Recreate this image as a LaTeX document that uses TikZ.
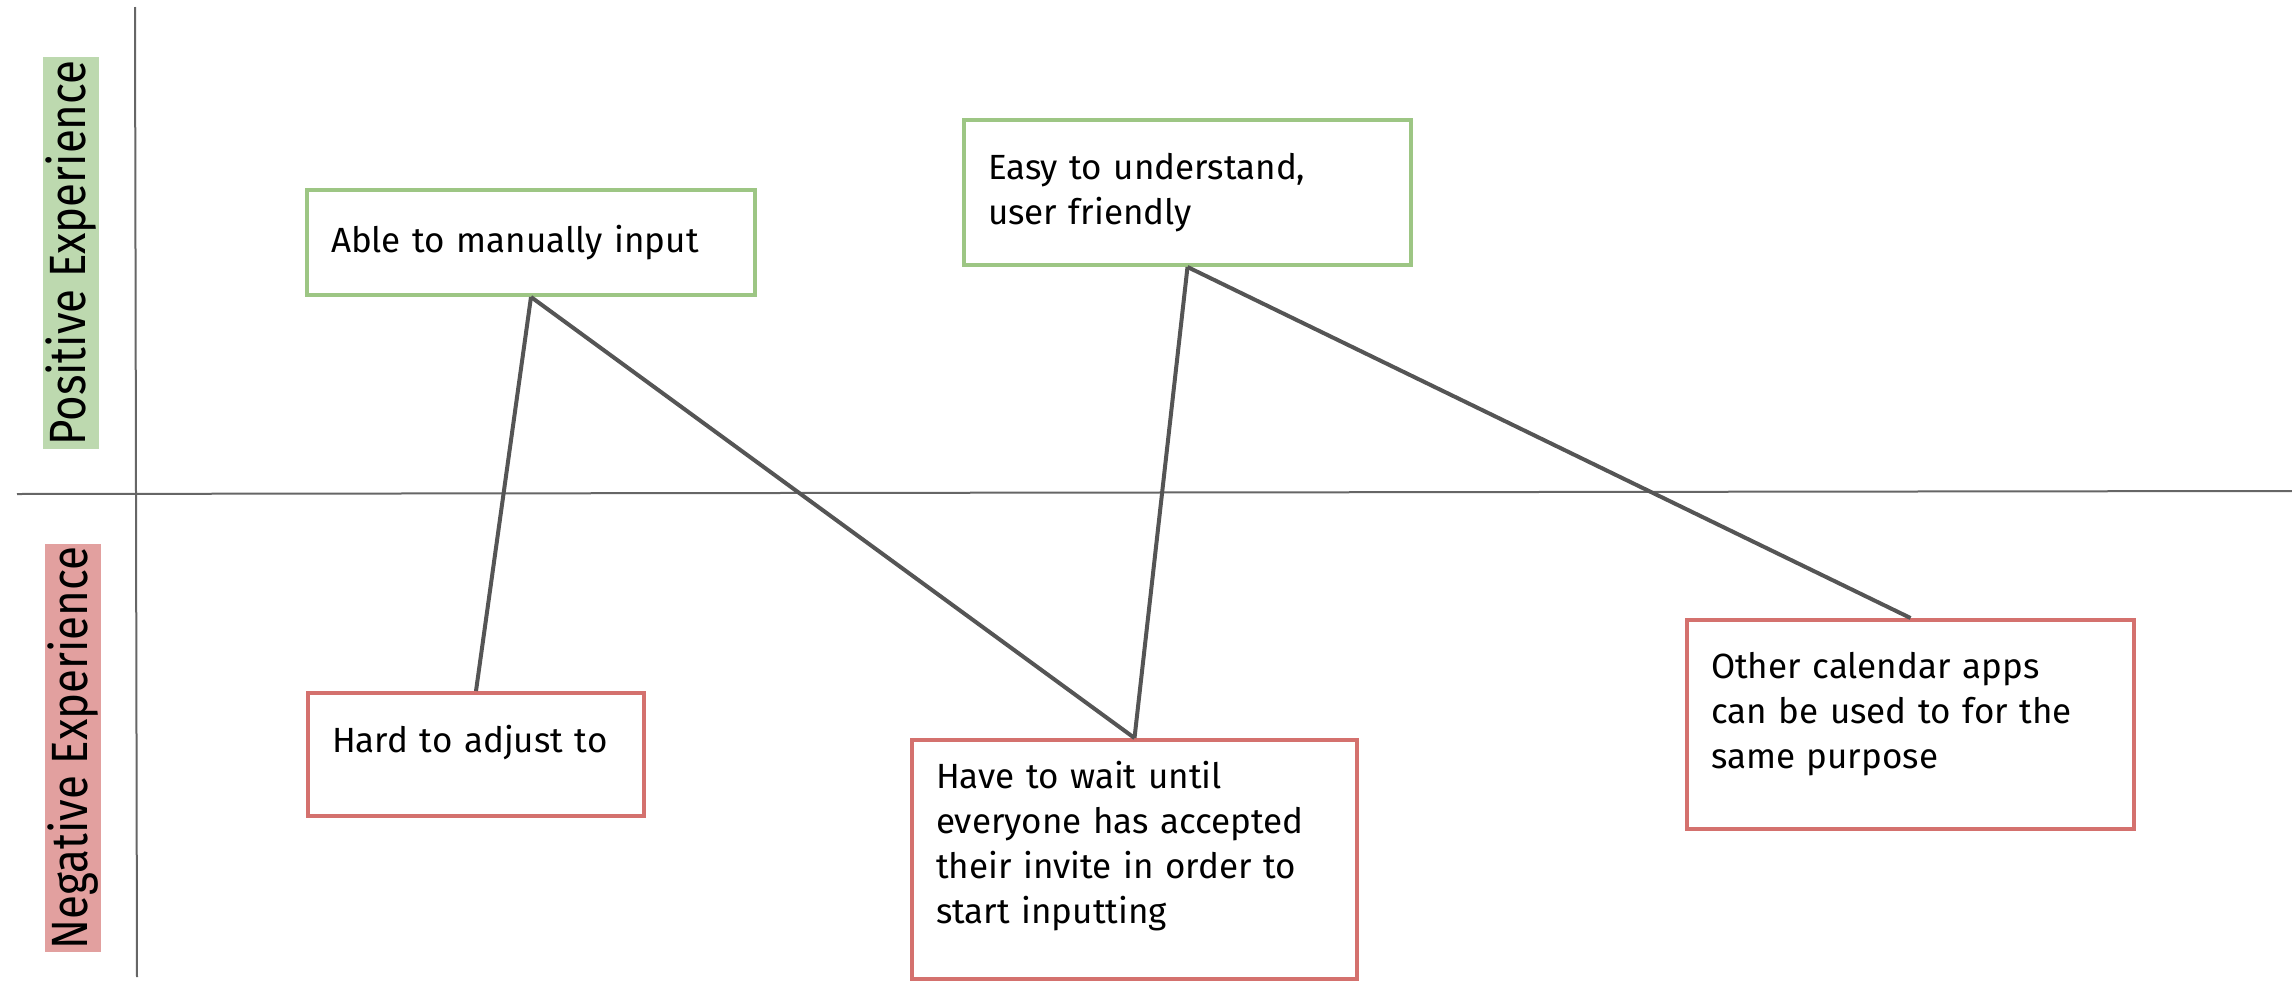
\documentclass[tikz,border=0pt]{standalone}
\usepackage{fontspec}
\setmainfont{Fira Sans}
\usepackage{tikz}
\usetikzlibrary{positioning}
\usepackage{xcolor}
\definecolor{posline}{HTML}{9DC684}
\definecolor{negline}{HTML}{D4716E}
\definecolor{posfill}{HTML}{BDD9AF}
\definecolor{negfill}{HTML}{E2A09F}
\definecolor{linkgray}{HTML}{555555}
\definecolor{axisgray}{HTML}{666666}
% extra room under the last line of a box
\newcommand{\padbelow}[1]{\rule[-#1]{0pt}{#1}}

\begin{document}
\begin{tikzpicture}[
  x=1pt, y=-1pt,
  box/.style={rectangle, draw, line width=4pt, fill=white, anchor=north west,
              align=left, inner xsep=24pt, inner ysep=0pt,
              font=\fontsize{35}{45}\selectfont},
  posbox/.style={box, draw=posline},
  negbox/.style={box, draw=negline},
  axislabel/.style={rotate=90, inner xsep=3pt, inner ysep=3pt,
                    font=\fontsize{51}{55}\selectfont},
  link/.style={line width=4pt, linkgray},
  axis/.style={line width=2pt, axisgray}
]
  \useasboundingbox (0,0) rectangle (2292,988);

  % axes
  \coordinate (ytop) at (135,7);
  \coordinate (ybot) at (137,977);
  \coordinate (xleft) at (17,494);
  \coordinate (xright) at (2292,491);
  \draw[axis] (ytop) -- (ybot);
  \draw[axis] (xleft) -- (xright);

  % axis labels
  \node[axislabel, fill=posfill] (pos) at (71,253) {\scalebox{0.86}[1]{Positive Experience}};
  \node[axislabel, fill=negfill] (neg) at (73,748) {\scalebox{0.86}[1]{Negative Experience}};

  % positive
  \node[posbox, minimum width=448pt, minimum height=105pt, text width=400pt] (able) at (305,188) {Able to manually input};
  \node[posbox, minimum width=447pt, minimum height=145pt, text width=399pt] (easy) at (962,118) {Easy to understand,\\user friendly};

  % negative
  \node[negbox, minimum width=336pt, minimum height=123pt, text width=288pt] (hard) at (306,691) {Hard to adjust to\padbelow{32pt}};
  \node[negbox, minimum width=445pt, minimum height=239pt, text width=397pt] (wait) at (910,738) {Have to wait until\\everyone has accepted\\their invite in order to\\start inputting\padbelow{34pt}};
  \node[negbox, minimum width=447pt, minimum height=209pt, text width=399pt] (other) at (1685,618) {Other calendar apps\\can be used to for the\\same purpose\padbelow{28pt}};

  \draw[link] (able.south) -- (hard.north);
  \draw[link] (able.south) -- (wait.north);
  \draw[link] (easy.south) -- (wait.north);
  \draw[link] (easy.south) -- (other.north);
\end{tikzpicture}
\end{document}
